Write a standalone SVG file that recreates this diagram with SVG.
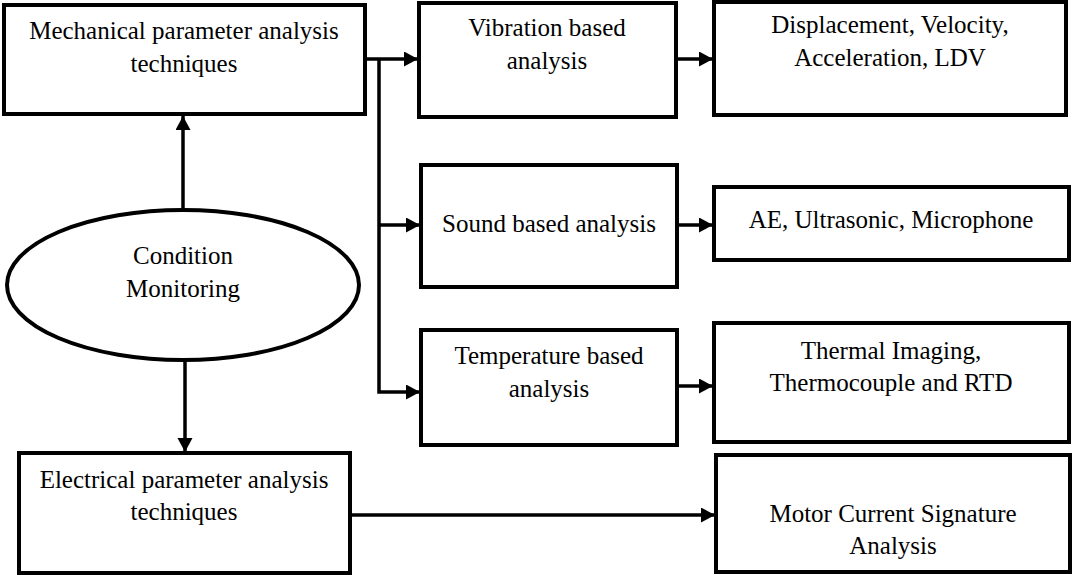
<svg xmlns="http://www.w3.org/2000/svg" width="1072" height="575" viewBox="0 0 1072 575">
<style>
.box{fill:#fff;stroke:#000;stroke-width:4}
.t{font-family:'Liberation Serif','Times New Roman',Times,'DejaVu Serif',serif;font-size:25px;fill:#000;text-anchor:middle}
.c{fill:none;stroke:#000;stroke-width:3.5}
</style>
<defs>
<marker id="ah" markerUnits="userSpaceOnUse" markerWidth="16" markerHeight="16" refX="14" refY="7.5" orient="auto">
<path d="M0,0 L14,7.5 L0,15 z" fill="#000"/>
</marker>
</defs>
<rect width="1072" height="575" fill="#fff"/>
<g id="mech">
<rect class="box" x="4" y="5" width="361" height="109"/>
<text class="t" x="184" y="39">Mechanical parameter analysis</text>
<text class="t" x="184" y="72">techniques</text>
</g>
<g id="vib">
<rect class="box" x="419" y="3" width="257" height="114"/>
<text class="t" x="547" y="36">Vibration based</text>
<text class="t" x="547" y="69">analysis</text>
</g>
<g id="disp">
<rect class="box" x="714" y="2" width="352" height="113"/>
<text class="t" x="890" y="33">Displacement, Velocity,</text>
<text class="t" x="890" y="66">Acceleration, LDV</text>
</g>
<g id="sound">
<rect class="box" x="421" y="165" width="256" height="122"/>
<text class="t" x="549" y="232">Sound based analysis</text>
</g>
<g id="ae">
<rect class="box" x="714" y="187" width="355" height="73"/>
<text class="t" x="891" y="228">AE, Ultrasonic, Microphone</text>
</g>
<g id="temp">
<rect class="box" x="421" y="330" width="256" height="115"/>
<text class="t" x="549" y="364">Temperature based</text>
<text class="t" x="549" y="397">analysis</text>
</g>
<g id="thermal">
<rect class="box" x="714" y="323" width="355" height="119"/>
<text class="t" x="891" y="359">Thermal Imaging,</text>
<text class="t" x="891" y="391">Thermocouple and RTD</text>
</g>
<g id="cm">
<ellipse class="box" cx="183" cy="285" rx="176" ry="75"/>
<text class="t" x="183" y="264">Condition</text>
<text class="t" x="183" y="297">Monitoring</text>
</g>
<g id="elec">
<rect class="box" x="19" y="453" width="331" height="120"/>
<text class="t" x="184" y="488">Electrical parameter analysis</text>
<text class="t" x="184" y="520">techniques</text>
</g>
<g id="mcsa">
<rect class="box" x="716" y="455" width="354" height="117"/>
<text class="t" x="893" y="522">Motor Current Signature</text>
<text class="t" x="893" y="554">Analysis</text>
</g>
<g id="connectors">
<line class="c" x1="365" y1="59" x2="418" y2="59" marker-end="url(#ah)"/>
<polyline class="c" points="379,59 379,392 420,392" marker-end="url(#ah)"/>
<line class="c" x1="379" y1="225" x2="420" y2="225" marker-end="url(#ah)"/>
<line class="c" x1="676" y1="59" x2="713" y2="59" marker-end="url(#ah)"/>
<line class="c" x1="677" y1="225" x2="713" y2="225" marker-end="url(#ah)"/>
<line class="c" x1="677" y1="386" x2="713" y2="386" marker-end="url(#ah)"/>
<line class="c" x1="183" y1="210" x2="183" y2="116" marker-end="url(#ah)"/>
<line class="c" x1="185" y1="360" x2="185" y2="452" marker-end="url(#ah)"/>
<line class="c" x1="350" y1="515" x2="715" y2="515" marker-end="url(#ah)"/>
</g>
</svg>
